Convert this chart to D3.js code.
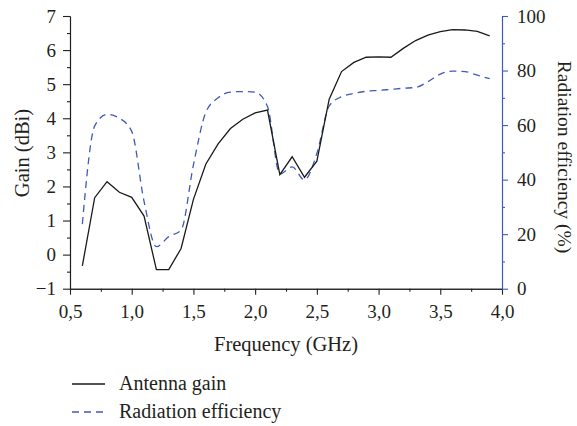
<!doctype html>
<html>
<head>
  <script src="https://cdnjs.cloudflare.com/ajax/libs/d3/7.8.5/d3.min.js"></script>
  <style>
    body { margin: 0; background: #fff; }
  </style>
</head>
<body>
<div id="viz">
<svg width="577" height="426"></svg>
</div>
<script>
// frequency in GHz
var freq = [0.6, 0.7, 0.8, 0.9, 1.0, 1.1, 1.2, 1.3, 1.4, 1.5, 1.6, 1.7, 1.8, 1.9, 2.0, 2.1, 2.2,
            2.3, 2.4, 2.5, 2.6, 2.7, 2.8, 2.9, 3.0, 3.1, 3.2, 3.3, 3.4, 3.5, 3.6, 3.7, 3.8, 3.9];
// antenna gain, dBi
var gain = [-0.33, 1.67, 2.14, 1.83, 1.68, 1.13, -0.44, -0.44, 0.18, 1.62, 2.65, 3.25, 3.70, 3.97,
            4.16, 4.24, 2.35, 2.87, 2.27, 2.74, 4.56, 5.37, 5.64, 5.79, 5.80, 5.79, 6.05, 6.28,
            6.44, 6.54, 6.60, 6.59, 6.55, 6.42];
// radiation efficiency, %
var eff = [23.7, 59.7, 63.9, 62.5, 57.7, 32.0, 15.4, 19.1, 21.5, 45.4, 64.6, 70.0, 72.1, 72.3,
           72.1, 66.8, 42.1, 44.7, 39.9, 49.6, 67.0, 70.4, 71.6, 72.4, 72.7, 73.1, 73.5, 73.8,
           75.9, 78.7, 79.8, 79.6, 78.3, 77.0];

var xTicks = [0.5, 1.0, 1.5, 2.0, 2.5, 3.0, 3.5, 4.0];
var gainTicks = [-1, 0, 1, 2, 3, 4, 5, 6, 7];
var effTicks = [0, 20, 40, 60, 80, 100];
var legendLabels = ["Antenna gain", "Radiation efficiency"];

var blue = "#3e5bb8";
var serif = "'Liberation Serif', 'Times New Roman', serif";
var svg = d3.select("svg");

var xScale = d3.scaleLinear().domain([0.5, 4]).range([70, 502]);
var yScale = d3.scaleLinear().domain([-1, 7]).range([288.7, 16]);
var y2Scale = d3.scaleLinear().domain([0, 100]).range([288.7, 16]);

var fmt = function(d) { return d3.format(".1f")(d).replace(".", ","); };
var fmtNeg = function(d) { return d < 0 ? "\u2212" + Math.abs(d) : d; };

// minor ticks
svg.append("g").attr("transform", "translate(0,288.7)")
   .call(d3.axisBottom(xScale).tickValues(d3.range(0.75, 4, 0.5)).tickSize(3).tickSizeOuter(0).tickFormat(""));
svg.append("g").attr("transform", "translate(70,0)")
   .call(d3.axisLeft(yScale).tickValues(d3.range(-0.5, 7, 1)).tickSize(3).tickSizeOuter(0).tickFormat(""));
svg.append("g").attr("class", "minor2").attr("transform", "translate(502,0)")
   .call(d3.axisRight(y2Scale).tickValues(d3.range(10, 100, 20)).tickSize(3).tickSizeOuter(0).tickFormat(""));

svg.append("g").attr("id", "xAxisG").attr("transform", "translate(0,288.7)")
   .call(d3.axisBottom(xScale).tickValues(xTicks).tickSize(6).tickSizeOuter(0).tickPadding(10).tickFormat(fmt));
svg.append("g").attr("id", "yAxisG").attr("transform", "translate(70,0)")
   .call(d3.axisLeft(yScale).tickValues(gainTicks).tickSize(7).tickSizeOuter(0).tickPadding(7).tickFormat(fmtNeg));
svg.append("g").attr("id", "y2AxisG").attr("transform", "translate(502,0)")
   .call(d3.axisRight(y2Scale).tickValues(effTicks).tickSize(6).tickSizeOuter(0).tickPadding(9));

svg.selectAll("g").attr("font-family", serif).attr("font-size", 18);
svg.selectAll(".domain, .tick line").attr("stroke", "#231f20").attr("stroke-width", 1.1);
svg.selectAll("#y2AxisG .domain, #y2AxisG .tick line, .minor2 .domain, .minor2 .tick line").attr("stroke", blue);
svg.selectAll(".tick text").attr("fill", "#231f20").style("font-family", serif).style("font-size", "19px");

// lines
var gainLine = d3.line().x(function(d, i) { return xScale(freq[i]); }).y(function(d) { return yScale(d); });
var effLine = d3.line().curve(d3.curveMonotoneX)
   .x(function(d, i) { return xScale(freq[i]); }).y(function(d) { return y2Scale(d); });

svg.append("path").datum(eff).attr("d", effLine)
   .attr("fill", "none").attr("stroke", blue).attr("stroke-width", 1.3).attr("stroke-dasharray", "7,5");
svg.append("path").datum(gain).attr("d", gainLine)
   .attr("fill", "none").attr("stroke", "#1a1a1a").attr("stroke-width", 1.3);

// titles
function title(sel, size) {
  return sel.attr("text-anchor", "middle").attr("fill", "#231f20")
    .style("font-family", serif).style("font-size", size + "px");
}
svg.append("text").attr("x", 286).attr("y", 351).call(title, 20.5).text("Frequency (GHz)");
svg.append("text").attr("transform", "translate(29,153) rotate(-90)").call(title, 20.5).text("Gain (dBi)");
svg.append("text").attr("transform", "translate(558,157) rotate(90)").call(title, 19.5).text("Radiation efficiency (%)");

// legend
var leg = svg.selectAll("g.legend").data(legendLabels).enter().append("g")
   .attr("class", "legend")
   .attr("transform", function(d, i) { return "translate(72," + (384 + i * 28) + ")"; });
leg.append("line").attr("x1", 0).attr("x2", 33).attr("y1", 0).attr("y2", 0)
   .attr("stroke", function(d, i) { return i ? blue : "#1a1a1a"; })
   .attr("stroke-width", 1.3)
   .attr("stroke-dasharray", function(d, i) { return i ? "7,5" : null; });
leg.append("text").attr("x", 47).attr("y", 6).attr("fill", "#231f20")
   .style("font-family", serif).style("font-size", "20px").text(function(d) { return d; });
</script>
</body>
</html>
